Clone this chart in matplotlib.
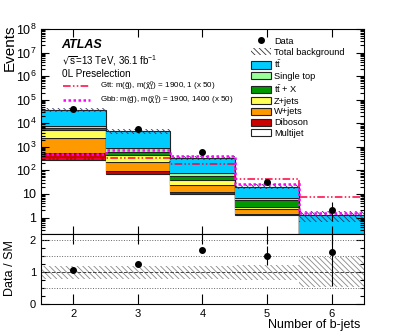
import matplotlib.pyplot as plt
import numpy as np
from matplotlib.patches import Patch
from matplotlib.lines import Line2D
from matplotlib.ticker import LogLocator, FuncFormatter, MultipleLocator, NullFormatter

plt.rcParams['font.family'] = ['Liberation Sans', 'DejaVu Sans']
plt.rcParams['mathtext.default'] = 'regular'
plt.rcParams['hatch.linewidth'] = 0.6

#%% Yields per b-jet multiplicity bin
nbjets = np.array([2, 3, 4, 5, 6])
edges = np.arange(1.5, 7.0, 1.0)

# backgrounds, bottom of the stack first
multijet = np.array([275, 68, 10.0, 1.30, 0.02])
diboson = np.array([290, 26, 2.5, 0.07, 0.005])
wjets = np.array([1780, 140, 11.5, 1.03, 0.03])
zjets = np.array([2700, 196, 15.0, 0.30, 0.01])
ttx = np.array([1100, 175, 21.0, 2.8, 0.08])
singletop = np.array([1800, 265, 15.0, 1.0, 0.03])
ttbar = np.array([29100, 3780, 265, 14.1, 1.05])

bkg_unc = np.array([0.21, 0.21, 0.21, 0.24, 0.47])

data = np.array([39400, 5890, 578, 31, 2])
data_up = np.array([199, 78, 25, 6.6, 2.6])
data_dn = np.array([198, 76, 24, 5.5, 1.3])

# signal points, scaled x50
gtt = np.array([310, 327, 187, 43, 7.7])
gbb = np.array([483, 735, 421, 27.3, 1.5])

comps = [
    (multijet, 'white', 'Multijet'),
    (diboson, '#CC0000', 'Diboson'),
    (wjets, '#FF9900', 'W+jets'),
    (zjets, '#FFFF55', 'Z+jets'),
    (ttx, '#009900', r'$t\bar{t}$ + X'),
    (singletop, '#99FF99', 'Single top'),
    (ttbar, '#00CCFF', r'$t\bar{t}$'),
]
gtt_style = dict(color='#FF0040', lw=1.1, ls=(0, (5, 1.5, 1, 1.5, 1, 1.5)))
gbb_style = dict(color='#FF00FF', lw=1.8, ls=(0, (1, 1)))

#%% Plot
fig = plt.figure(figsize=(4.06, 3.34), dpi=100)
ax1 = fig.add_axes([41/406, 100/334, 323/406, 205/334])
ax2 = fig.add_axes([41/406, 30/334, 323/406, 70/334])

bottom = np.full(len(nbjets), 1e-3)
for vals, col, lab in comps:
    top = bottom + vals
    if col != 'white':
        ax1.stairs(top, edges, baseline=bottom, fill=True, color=col, lw=0)
    ax1.stairs(top, edges, baseline=None, color='#222222', lw=0.8)
    bottom = top
bkg = bottom

ax1.stairs(bkg*(1+bkg_unc), edges, baseline=bkg*(1-bkg_unc), fill=True,
           facecolor='none', edgecolor='#333366', hatch='\\\\\\\\\\\\', lw=0)

ax1.stairs(gtt, edges, baseline=None, **gtt_style)
ax1.stairs(gbb, edges, baseline=None, **gbb_style)

ax1.errorbar(nbjets, data, yerr=[data_dn, data_up], fmt='o', color='k',
             ms=4, lw=0.8, capsize=0, zorder=5)

ax1.set_yscale('log')
ax1.set_ylim(0.2, 1e8)
ax1.set_xlim(1.5, 6.5)
ax1.set_xticks(nbjets)
ax1.yaxis.set_major_locator(LogLocator(base=10, numticks=20))
ax1.yaxis.set_minor_locator(LogLocator(base=10, subs=np.arange(2, 10), numticks=20))
ax1.yaxis.set_minor_formatter(NullFormatter())
ax1.yaxis.set_major_formatter(FuncFormatter(
    lambda v, p: '1' if v == 1 else ('10' if v == 10 else '$10^{%d}$' % round(np.log10(v)))))
ax1.tick_params(axis='both', which='both', direction='in', top=True, right=True,
                labelbottom=False, labelsize=9, width=0.8)
ax1.tick_params(axis='x', which='major', length=6)
ax1.tick_params(axis='y', which='major', length=6)
ax1.tick_params(axis='y', which='minor', length=3)
ax1.set_ylabel('Events', fontsize=11, loc='top')
ax1.yaxis.set_label_coords(-0.075, 1.02)

ax1.text(0.064, 0.922, 'ATLAS', transform=ax1.transAxes, fontsize=9,
         weight='bold', style='italic', va='center')
ax1.text(0.064, 0.844, r'$\sqrt{s}$=13 TeV, 36.1 fb$^{-1}$', transform=ax1.transAxes,
         fontsize=7, va='center')
ax1.text(0.064, 0.78, '0L Preselection', transform=ax1.transAxes, fontsize=7.2, va='center')

sig_handles = [Line2D([], [], **gtt_style), Line2D([], [], **gbb_style)]
sig_labels = [r'Gtt: m($\tilde{g}$), m($\tilde{\chi}^{0}_{1}$) = 1900, 1 (x 50)',
              r'Gbb: m($\tilde{g}$), m($\tilde{\chi}^{0}_{1}$) = 1900, 1400 (x 50)']
leg_sig = ax1.legend(sig_handles, sig_labels, loc='upper left', bbox_to_anchor=(0.068, 0.753),
                     frameon=False, fontsize=5.8, handlelength=3.35, handletextpad=1.2,
                     labelspacing=0.15, borderpad=0, borderaxespad=0)
ax1.add_artist(leg_sig)

handles = [Line2D([], [], marker='o', color='k', ls='none', ms=4),
           Patch(facecolor='none', edgecolor='#333333', hatch='\\\\\\\\\\\\', lw=0)]
labels = ['Data', 'Total background']
for vals, col, lab in comps[::-1]:
    handles.append(Patch(facecolor=col, edgecolor='#222222', lw=0.8))
    labels.append(lab)
ax1.legend(handles, labels, loc='upper left', bbox_to_anchor=(0.650, 0.962), frameon=False,
           fontsize=6.7, handlelength=2.15, handleheight=0.8, handletextpad=0.35,
           labelspacing=0.2, borderpad=0, borderaxespad=0)

# ratio panel
ratio = data / bkg
ax2.stairs(1+bkg_unc, edges, baseline=1-bkg_unc, fill=True, facecolor='none',
           edgecolor='#888888', hatch='\\\\\\\\\\\\', lw=0)
for y in [0.5, 1.5, 2.0]:
    ax2.axhline(y, color='#666666', ls=':', lw=0.7)
ax2.axhline(1, color='#444444', ls='--', lw=0.7)
ax2.errorbar(nbjets, ratio, yerr=[data_dn/bkg, data_up/bkg], fmt='o', color='k',
             ms=4, lw=0.8, capsize=0, zorder=5)
ax2.set_xlim(1.5, 6.5)
ax2.set_ylim(0, 2.2)
ax2.set_xticks(nbjets)
ax2.set_yticks([0, 1, 2])
ax2.yaxis.set_minor_locator(MultipleLocator(0.25))
ax2.tick_params(axis='both', which='both', direction='in', top=True, right=True,
                labelsize=8, width=0.8)
ax2.tick_params(axis='x', which='major', length=7)
ax2.tick_params(axis='y', which='major', length=6)
ax2.tick_params(axis='y', which='minor', length=3)
ax2.set_ylabel('Data / SM', fontsize=9)
ax2.yaxis.set_label_coords(-0.077, 0.507)
ax2.set_xlabel('Number of b-jets', fontsize=9, loc='right')
ax2.xaxis.set_label_coords(0.99, -0.21)

plt.savefig('out.png', dpi=100)
